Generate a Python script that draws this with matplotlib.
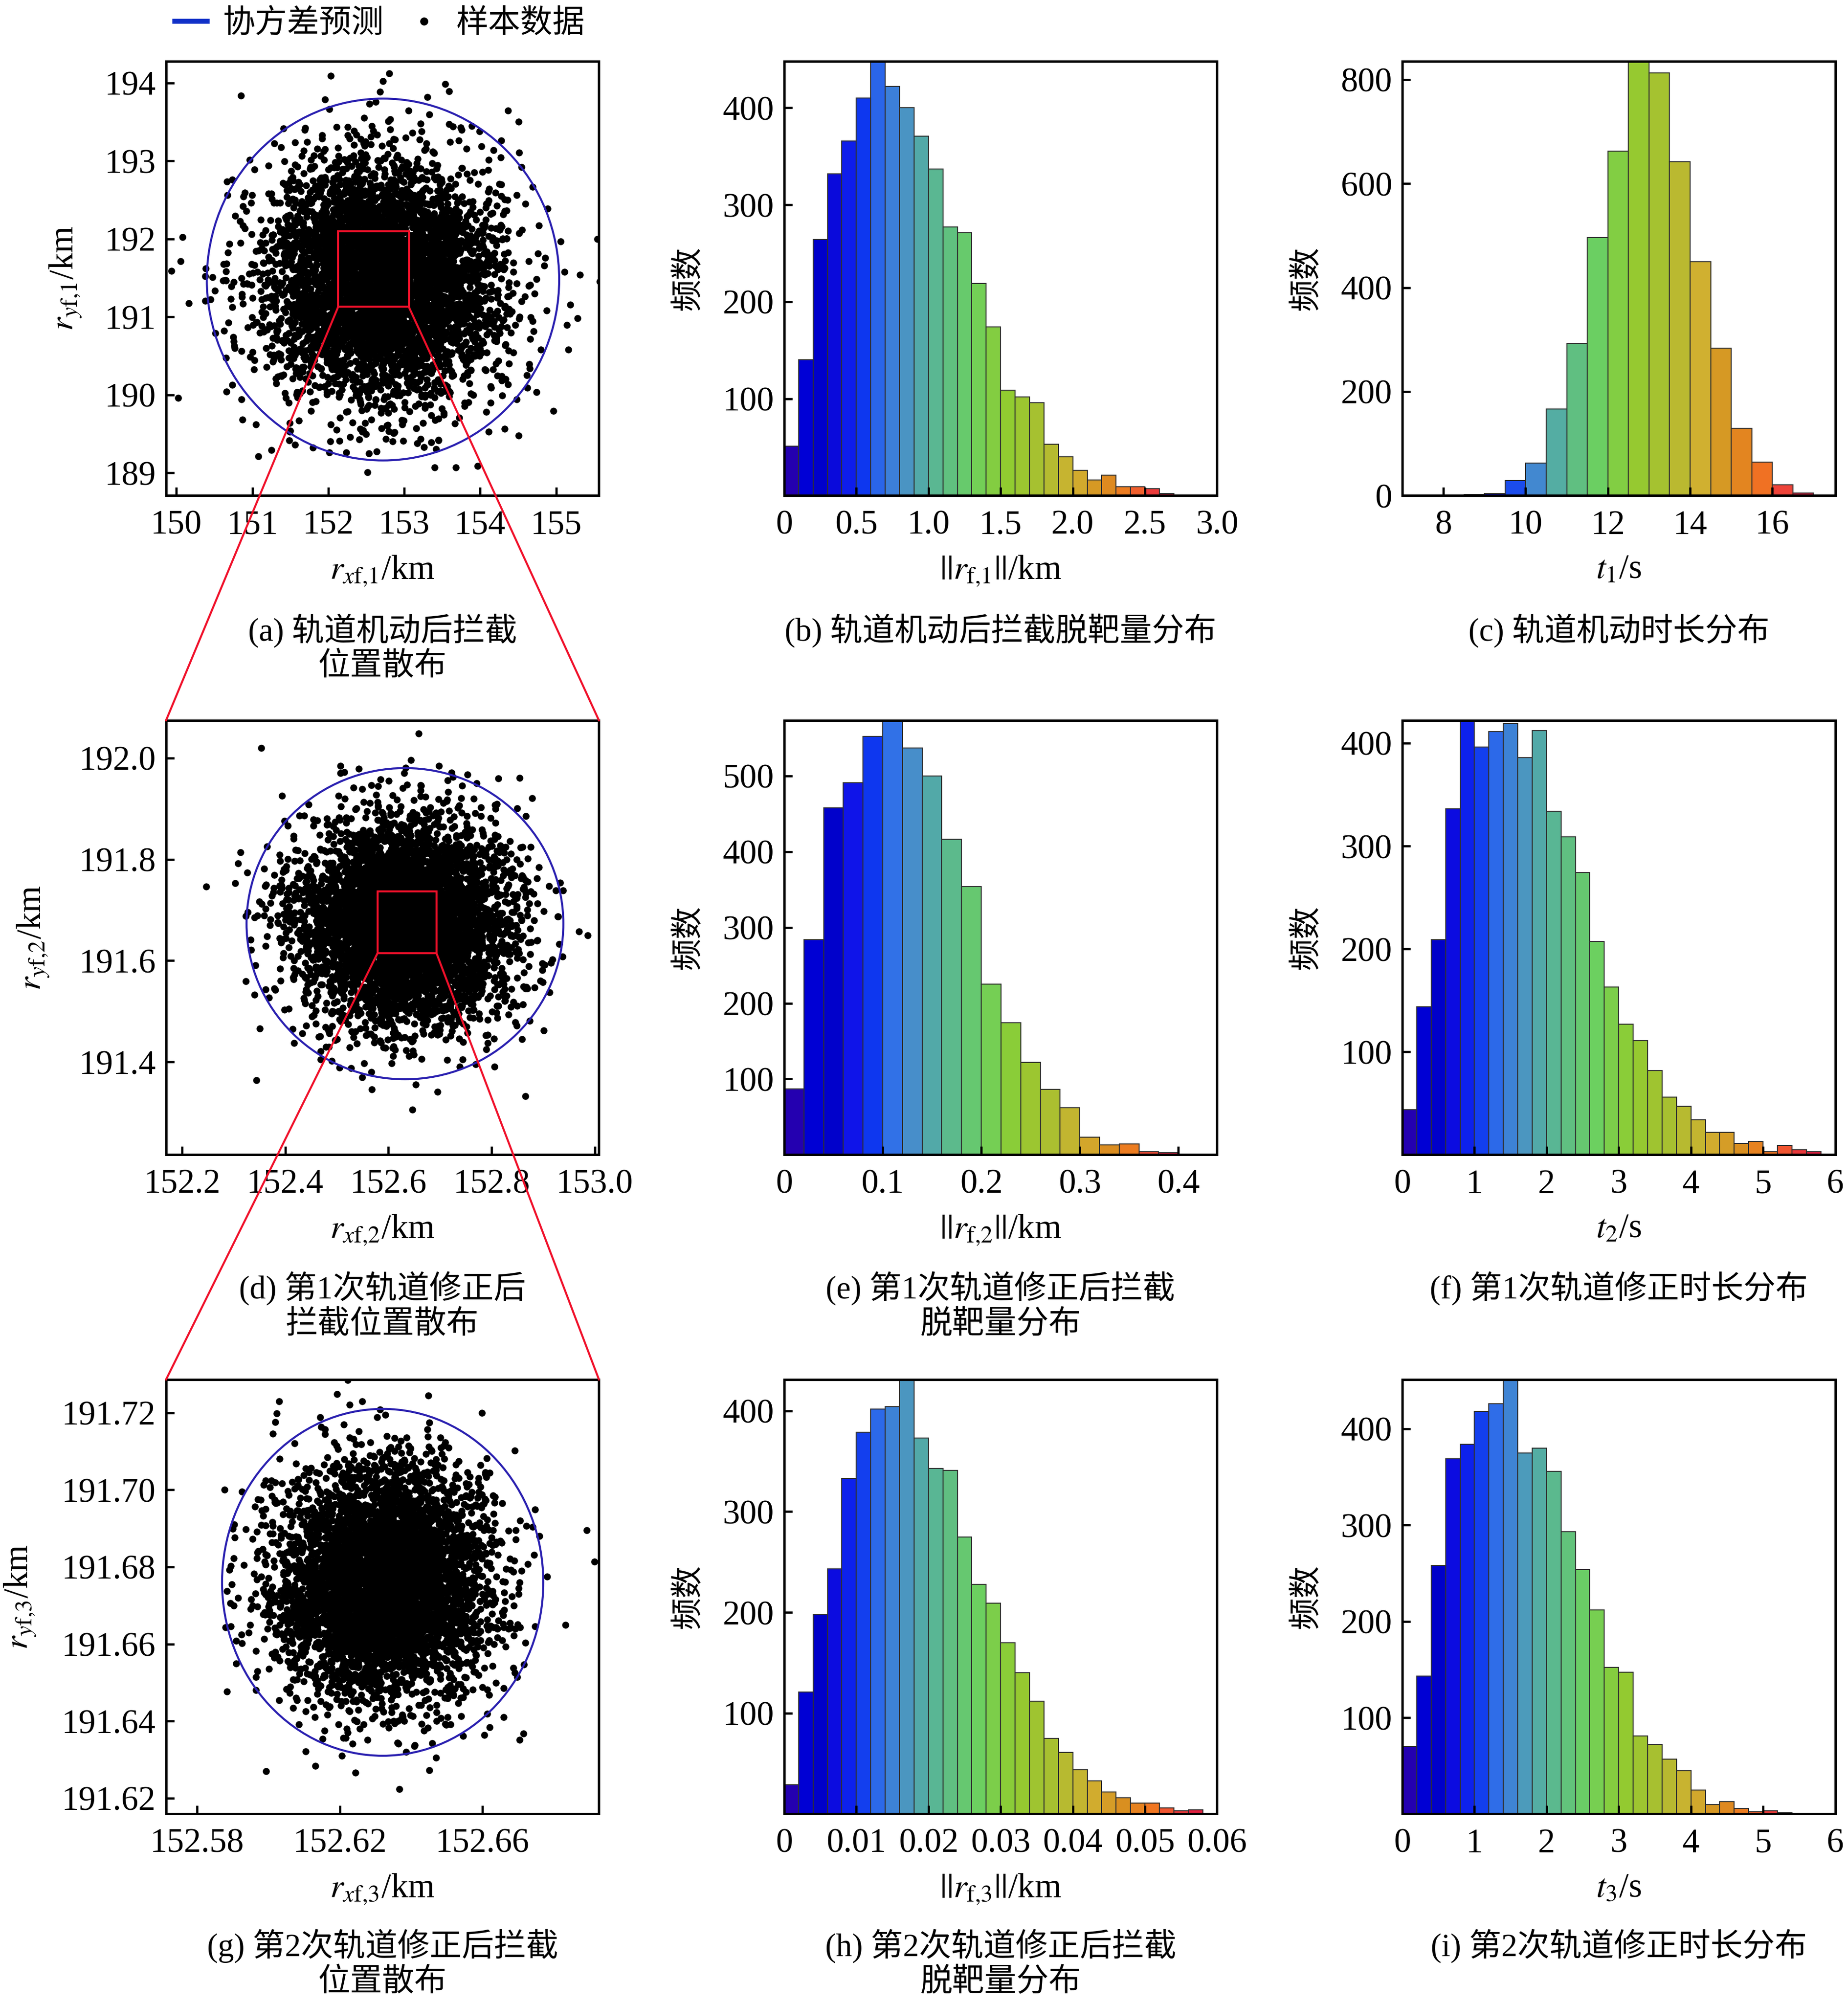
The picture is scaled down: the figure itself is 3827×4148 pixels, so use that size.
"""
Monte Carlo interception scatter and miss-distance / duration histograms (3x3 panels)
"""
import numpy as np
import matplotlib.pyplot as plt
from matplotlib.patches import Ellipse, Rectangle, ConnectionPatch
from matplotlib.colors import LinearSegmentedColormap
from matplotlib.lines import Line2D

plt.rcParams['font.family'] = ['Liberation Serif', 'Noto Sans CJK SC']
plt.rcParams['mathtext.fontset'] = 'stix'
plt.rcParams['axes.unicode_minus'] = False

# ---------------- data ----------------
n_samples = 5000

# scatter clouds: centre (x, y), spread, covariance circle radius, zoom box (x0, y0, x1, y1)
cloud1_center = (152.72, 191.48)
cloud1_sigma = 0.76
circle1_radius = 2.32
box1 = (152.13, 191.13, 153.06, 192.10)

cloud2_center = (152.632, 191.673)
cloud2_sigma = 0.10
circle2_radius = 0.307
box2 = (152.579, 191.615, 152.693, 191.737)

cloud3_center = (152.632, 191.676)
cloud3_sigma = 0.0147
circle3_radius = 0.045

# histograms: first bin edge, bin width, counts
b_start, b_width = 0.0, 0.1
b_counts = [51, 140, 264, 332, 366, 410, 452, 422, 400, 371, 337, 277, 271, 219,
            174, 109, 102, 96, 53, 40, 26, 16, 21, 9, 9, 7, 2]

c_start, c_width = 8.5, 0.5
c_counts = [2, 4, 29, 63, 167, 293, 496, 662, 845, 813, 642, 450, 284, 129, 64, 21, 5]

e_start, e_width = 0.0, 0.02
e_counts = [87, 284, 458, 491, 552, 580, 537, 500, 416, 354, 225, 174, 122, 86,
            62, 23, 13, 14, 4, 3]

f_start, f_width = 0.0, 0.2
f_counts = [44, 144, 209, 336, 426, 396, 411, 419, 386, 412, 334, 309, 274, 207,
            163, 127, 111, 82, 56, 47, 34, 22, 22, 11, 13, 3, 9, 5, 3]

h_start, h_width = 0.0, 0.002
h_counts = [29, 121, 198, 243, 333, 379, 402, 404, 436, 373, 343, 341, 275, 228,
            209, 170, 140, 112, 75, 61, 44, 33, 22, 16, 11, 11, 6, 3, 4]

i_start, i_width = 0.0, 0.2
i_counts = [70, 143, 258, 369, 384, 418, 426, 456, 375, 380, 356, 293, 254, 212,
            152, 147, 81, 72, 57, 45, 25, 10, 13, 6, 2, 3, 1]

captions = ['(a) 轨道机动后拦截\n位置散布',
            '(b) 轨道机动后拦截脱靶量分布',
            '(c) 轨道机动时长分布',
            '(d) 第1次轨道修正后\n拦截位置散布',
            '(e) 第1次轨道修正后拦截\n脱靶量分布',
            '(f) 第1次轨道修正时长分布',
            '(g) 第2次轨道修正后拦截\n位置散布',
            '(h) 第2次轨道修正后拦截\n脱靶量分布',
            '(i) 第2次轨道修正时长分布']

# ---------------- styling ----------------
bar_cmap = LinearSegmentedColormap.from_list('bars', [
    (0.00, '#2400b0'), (0.06, '#0000d8'), (0.14, '#0000c8'), (0.20, '#1010e8'),
    (0.26, '#0a30f0'), (0.32, '#3070e8'), (0.38, '#4890c8'), (0.44, '#55b0a0'),
    (0.50, '#60c080'), (0.56, '#6cd060'), (0.64, '#90cc30'), (0.72, '#a8c030'),
    (0.80, '#d0b030'), (0.86, '#d89020'), (0.92, '#f07820'), (0.96, '#f04838'),
    (1.00, '#e02040')])

ELLIPSE_COLOR = '#2a20b0'
ZOOM_COLOR = '#f0102a'
TICK_FS = 17
CN_FS = 16

W, H = 1447.0, 1568.0          # reference layout units
col_left = [130, 614, 1098]
row_top = [48, 564, 1080]
ax_w, ax_h = 339, 340

fig = plt.figure(figsize=(3827 / 300, 4148 / 300), dpi=300)
axes = []
for r in range(3):
    for c in range(3):
        ax = fig.add_axes([col_left[c] / W, 1 - (row_top[r] + ax_h) / H, ax_w / W, ax_h / H])
        axes.append(ax)


def style(ax):
    for s in ax.spines.values():
        s.set_linewidth(1.2)
    ax.tick_params(direction='in', length=4, width=1.1, top=False, right=False,
                   labelsize=TICK_FS)
    ax.tick_params(axis='x', pad=7)
    ax.tick_params(axis='y', pad=5)


def scatter_panel(ax, center, sigma, radius, seed):
    # Monte Carlo sample cloud, spread
    rng = np.random.default_rng(seed)
    pts = rng.normal(loc=center, scale=sigma, size=(n_samples, 2))
    ax.scatter(pts[:, 0], pts[:, 1], s=12, c='black', linewidths=0, zorder=2)
    ax.add_patch(Ellipse(center, 2 * radius, 2 * radius, fill=False,
                         edgecolor=ELLIPSE_COLOR, lw=1.0, zorder=3))


def hist_panel(ax, start, width, counts, gamma):
    n = len(counts)
    lefts = start + width * np.arange(n)
    colors = bar_cmap(np.linspace(0, 1, n) ** gamma)
    ax.bar(lefts, counts, width=width, align='edge', color=colors,
           edgecolor='#303030', linewidth=0.5)


for ax in axes:
    style(ax)

# (a)
ax = axes[0]
scatter_panel(ax, cloud1_center, cloud1_sigma, circle1_radius, 1)
ax.add_patch(Rectangle((box1[0], box1[1]), box1[2] - box1[0], box1[3] - box1[1],
                       fill=False, edgecolor=ZOOM_COLOR, lw=1.0, zorder=4))
ax.set_xlim(149.863, 155.564)
ax.set_ylim(188.709, 194.278)
ax.set_xticks([150, 151, 152, 153, 154, 155])
ax.set_yticks([189, 190, 191, 192, 193, 194])
ax.set_xlabel(r'$r_{x\mathrm{f}{,}1}$/km', fontsize=TICK_FS)
ax.set_ylabel(r'$r_{y\mathrm{f}{,}1}$/km', fontsize=TICK_FS)
ax.yaxis.set_label_coords(-0.19, 0.5)

# (d)
ax = axes[3]
scatter_panel(ax, cloud2_center, cloud2_sigma, circle2_radius, 2)
ax.add_patch(Rectangle((box2[0], box2[1]), box2[2] - box2[0], box2[3] - box2[1],
                       fill=False, edgecolor=ZOOM_COLOR, lw=1.0, zorder=4))
ax.set_xlim(152.169, 153.008)
ax.set_ylim(191.217, 192.074)
ax.set_xticks([152.2, 152.4, 152.6, 152.8, 153.0])
ax.set_xticklabels(['152.2', '152.4', '152.6', '152.8', '153.0'])
ax.set_yticks([191.4, 191.6, 191.8, 192.0])
ax.set_yticklabels(['191.4', '191.6', '191.8', '192.0'])
ax.set_xlabel(r'$r_{x\mathrm{f}{,}2}$/km', fontsize=TICK_FS)
ax.set_ylabel(r'$r_{y\mathrm{f}{,}2}$/km', fontsize=TICK_FS)
ax.yaxis.set_label_coords(-0.265, 0.5)

# (g)
ax = axes[6]
scatter_panel(ax, cloud3_center, cloud3_sigma, circle3_radius, 3)
ax.set_xlim(152.5713, 152.6926)
ax.set_ylim(191.6159, 191.7286)
ax.set_xticks([152.58, 152.62, 152.66])
ax.set_xticklabels(['152.58', '152.62', '152.66'])
ax.set_yticks([191.62, 191.64, 191.66, 191.68, 191.70, 191.72])
ax.set_yticklabels(['191.62', '191.64', '191.66', '191.68', '191.70', '191.72'])
ax.set_xlabel(r'$r_{x\mathrm{f}{,}3}$/km', fontsize=TICK_FS)
ax.set_ylabel(r'$r_{y\mathrm{f}{,}3}$/km', fontsize=TICK_FS)
ax.yaxis.set_label_coords(-0.295, 0.5)

# histograms
hist_specs = [
    (axes[1], b_start, b_width, b_counts, 0.8, (0, 3.0), (0, 448),
     [0, 0.5, 1.0, 1.5, 2.0, 2.5, 3.0], ['0', '0.5', '1.0', '1.5', '2.0', '2.5', '3.0'],
     [100, 200, 300, 400], r'$||r_{\mathrm{f}{,}1}||$/km'),
    (axes[2], c_start, c_width, c_counts, 0.6, (7, 17.53), (0, 835),
     [8, 10, 12, 14, 16], ['8', '10', '12', '14', '16'],
     [0, 200, 400, 600, 800], r'$t_1$/s'),
    (axes[4], e_start, e_width, e_counts, 0.85, (0, 0.4393), (0, 573),
     [0, 0.1, 0.2, 0.3, 0.4], ['0', '0.1', '0.2', '0.3', '0.4'],
     [100, 200, 300, 400, 500], r'$||r_{\mathrm{f}{,}2}||$/km'),
    (axes[5], f_start, f_width, f_counts, 0.75, (0, 6), (0, 422),
     [0, 1, 2, 3, 4, 5, 6], ['0', '1', '2', '3', '4', '5', '6'],
     [100, 200, 300, 400], r'$t_2$/s'),
    (axes[7], h_start, h_width, h_counts, 0.75, (0, 0.06), (0, 431),
     [0, 0.01, 0.02, 0.03, 0.04, 0.05, 0.06], ['0', '0.01', '0.02', '0.03', '0.04', '0.05', '0.06'],
     [100, 200, 300, 400], r'$||r_{\mathrm{f}{,}3}||$/km'),
    (axes[8], i_start, i_width, i_counts, 0.78, (0, 6), (0, 451),
     [0, 1, 2, 3, 4, 5, 6], ['0', '1', '2', '3', '4', '5', '6'],
     [100, 200, 300, 400], r'$t_3$/s'),
]
for ax, start, width, counts, gamma, xlim, ylim, xt, xtl, yt, xlab in hist_specs:
    hist_panel(ax, start, width, counts, gamma)
    ax.set_xlim(*xlim)
    ax.set_ylim(*ylim)
    ax.set_xticks(xt)
    ax.set_xticklabels(xtl)
    ax.set_yticks(yt)
    ax.set_xlabel(xlab, fontsize=TICK_FS)
    ax.set_ylabel('频数', fontsize=CN_FS)
    ax.yaxis.set_label_coords(-0.185, 0.5)

for ax in axes:
    ax.xaxis.set_label_coords(0.5, -0.135)

# captions under each panel
cap_top = [480, 995, 1510]
for k, ax in enumerate(axes):
    r, c = divmod(k, 3)
    fig.text((col_left[c] + ax_w / 2) / W, 1 - cap_top[r] / H, captions[k],
             ha='center', va='top', fontsize=CN_FS, linespacing=1.2,
             multialignment='center')

# zoom connectors
for src, box, dst in [(axes[0], box1, axes[3]), (axes[3], box2, axes[6])]:
    for xa, xb in [(box[0], 0), (box[2], 1)]:
        con = ConnectionPatch(xyA=(xa, box[1]), coordsA=src.transData,
                              xyB=(xb, 1), coordsB=dst.transAxes,
                              color=ZOOM_COLOR, lw=1.0, zorder=5)
        fig.add_artist(con)

# legend on top
handles = [Line2D([], [], color='#1030c8', lw=2.5),
           Line2D([], [], color='black', marker='o', markersize=3, ls='none')]
fig.legend(handles, ['协方差预测', '样本数据'], loc='center',
           bbox_to_anchor=(0.2056, 1 - 19 / H), ncol=2, frameon=False,
           fontsize=CN_FS, handlelength=1.0, handletextpad=0.5, columnspacing=0.75)

fig.savefig('out.png', dpi=300, facecolor='white')
plt.close(fig)
